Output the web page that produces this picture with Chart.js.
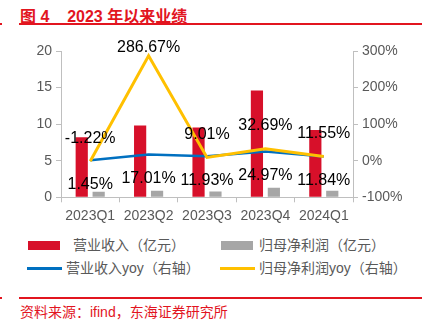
<!DOCTYPE html>
<html>
<head>
<meta charset="utf-8">
<script src="https://cdn.jsdelivr.net/npm/chart.js@4"></script>
<style>
  body { margin: 0; background: #fff; font-family: "Liberation Sans", Arial, "Noto Sans CJK SC", sans-serif; }
  #wrap { position: relative; width: 430px; height: 322px; overflow: hidden; }
  .abs { position: absolute; white-space: nowrap; }
  .title { left: 20px; top: 3px; font-size: 16px; font-weight: bold; color: #e2151f; }
  .rule { height: 2px; background: #e2151f; }
  .src { left: 20px; top: 301px; font-size: 14px; color: #e2151f; }
  .leg { font-size: 14px; color: #595959; line-height: 16px; }
  #box { position: absolute; left: 0; top: 30px; width: 430px; height: 200px; }
</style>
</head>
<body>
<div id="wrap">
  <div class="abs title">图 4&nbsp;&nbsp;&nbsp;&nbsp;2023 年以来业绩</div>
  <div class="abs rule" style="left:19px; top:23px; width:403px;"></div>
  <div class="abs rule" style="left:0; top:23px; width:2px;"></div>

  <div id="box"><canvas id="perfChart" width="430" height="200"></canvas></div>

  <!-- legend -->
  <div class="abs" style="left:28px; top:241px; width:32px; height:9px; background:#d7102a;"></div>
  <div class="abs leg" style="left:73px; top:237px;">营业收入（亿元）</div>
  <div class="abs" style="left:221px; top:241px; width:32px; height:9px; background:#a6a6a6;"></div>
  <div class="abs leg" style="left:259px; top:237px;">归母净利润（亿元）</div>
  <div class="abs" style="left:27px; top:267px; width:35px; height:3px; background:#0070c0;"></div>
  <div class="abs leg" style="left:66px; top:260px;">营业收入yoy（右轴）</div>
  <div class="abs" style="left:220px; top:267px; width:35px; height:3px; background:#ffc000;"></div>
  <div class="abs leg" style="left:259px; top:260px;">归母净利润yoy（右轴）</div>

  <div class="abs rule" style="left:19px; top:297px; width:403px;"></div>
  <div class="abs rule" style="left:0; top:297px; width:2px;"></div>
  <div class="abs src">资料来源：ifind，东海证券研究所</div>
</div>

<script>
// quarterly results
const quarters = ['2023Q1', '2023Q2', '2023Q3', '2023Q4', '2024Q1'];
const revenue = [8.2, 9.8, 9.55, 14.6, 9.2];          // 亿元
const netProfit = [0.77, 0.9, 0.8, 1.31, 0.9];        // 亿元
const revenueYoy = [1.45, 17.01, 11.93, 24.97, 11.84];  // %
const profitYoy = [-1.22, 286.67, 9.01, 32.69, 11.55];  // %

const axisGray = '#bfbfbf';
const tickGray = '#595959';

// percentage labels: profit yoy above its line, revenue yoy below its line
const yoyLabels = {
    id: 'yoyLabels',
    afterDatasetsDraw(chart) {
        const ctx = chart.ctx;
        const area = chart.chartArea;
        ctx.save();
        ctx.font = '16px "Liberation Sans", Arial, sans-serif';
        ctx.fillStyle = '#000';
        ctx.textAlign = 'center';
        ctx.textBaseline = 'middle';
        chart.getDatasetMeta(3).data.forEach((pt, i) => {
            const y = Math.max(pt.y - 23, area.top - 3);
            ctx.fillText(profitYoy[i].toFixed(2) + '%', pt.x, y);
        });
        chart.getDatasetMeta(2).data.forEach((pt, i) => {
            ctx.fillText(revenueYoy[i].toFixed(2) + '%', pt.x, pt.y + 24);
        });
        ctx.restore();
    }
};

const tickFont = { family: '"Liberation Sans", Arial, sans-serif', size: 14 };

new Chart(document.getElementById('perfChart'), {
    type: 'bar',
    data: {
        labels: quarters,
        datasets: [
            {
                label: '营业收入（亿元）',
                data: revenue,
                backgroundColor: '#d7102a',
                yAxisID: 'y',
                order: 3,
            },
            {
                label: '归母净利润（亿元）',
                data: netProfit,
                backgroundColor: '#a6a6a6',
                yAxisID: 'y',
                order: 4,
            },
            {
                type: 'line',
                label: '营业收入yoy（右轴）',
                data: revenueYoy,
                borderColor: '#0070c0',
                borderWidth: 2.5,
                pointRadius: 0,
                tension: 0,
                yAxisID: 'y1',
                order: 2,
            },
            {
                type: 'line',
                label: '归母净利润yoy（右轴）',
                data: profitYoy,
                borderColor: '#ffc000',
                borderWidth: 3,
                pointRadius: 0,
                tension: 0,
                yAxisID: 'y1',
                order: 1,
            }
        ]
    },
    options: {
        responsive: false,
        animation: false,
        devicePixelRatio: 1,
        categoryPercentage: 0.58,
        barPercentage: 0.72,
        layout: { padding: { top: 21 } },
        plugins: {
            legend: { display: false },
            tooltip: { enabled: false }
        },
        scales: {
            x: {
                offset: true,
                grid: { offset: true, drawOnChartArea: false, color: axisGray, tickLength: 5 },
                border: { color: axisGray },
                ticks: { color: tickGray, font: tickFont, padding: 5, maxRotation: 0 },
                afterFit: s => { s.height = 32.7; }
            },
            y: {
                position: 'left',
                min: 0,
                max: 20,
                ticks: { stepSize: 5, color: tickGray, font: tickFont, padding: 4 },
                grid: { drawOnChartArea: false, color: axisGray, tickLength: 5 },
                border: { color: axisGray },
                afterFit: s => { s.width = 61; }
            },
            y1: {
                position: 'right',
                min: -100,
                max: 300,
                ticks: { stepSize: 100, color: tickGray, font: tickFont, padding: 4,
                         callback: v => v + '%' },
                grid: { drawOnChartArea: false, color: axisGray, tickLength: 5 },
                border: { color: axisGray },
                afterFit: s => { s.width = 77; }
            }
        }
    },
    plugins: [yoyLabels]
});
</script>
</body>
</html>
